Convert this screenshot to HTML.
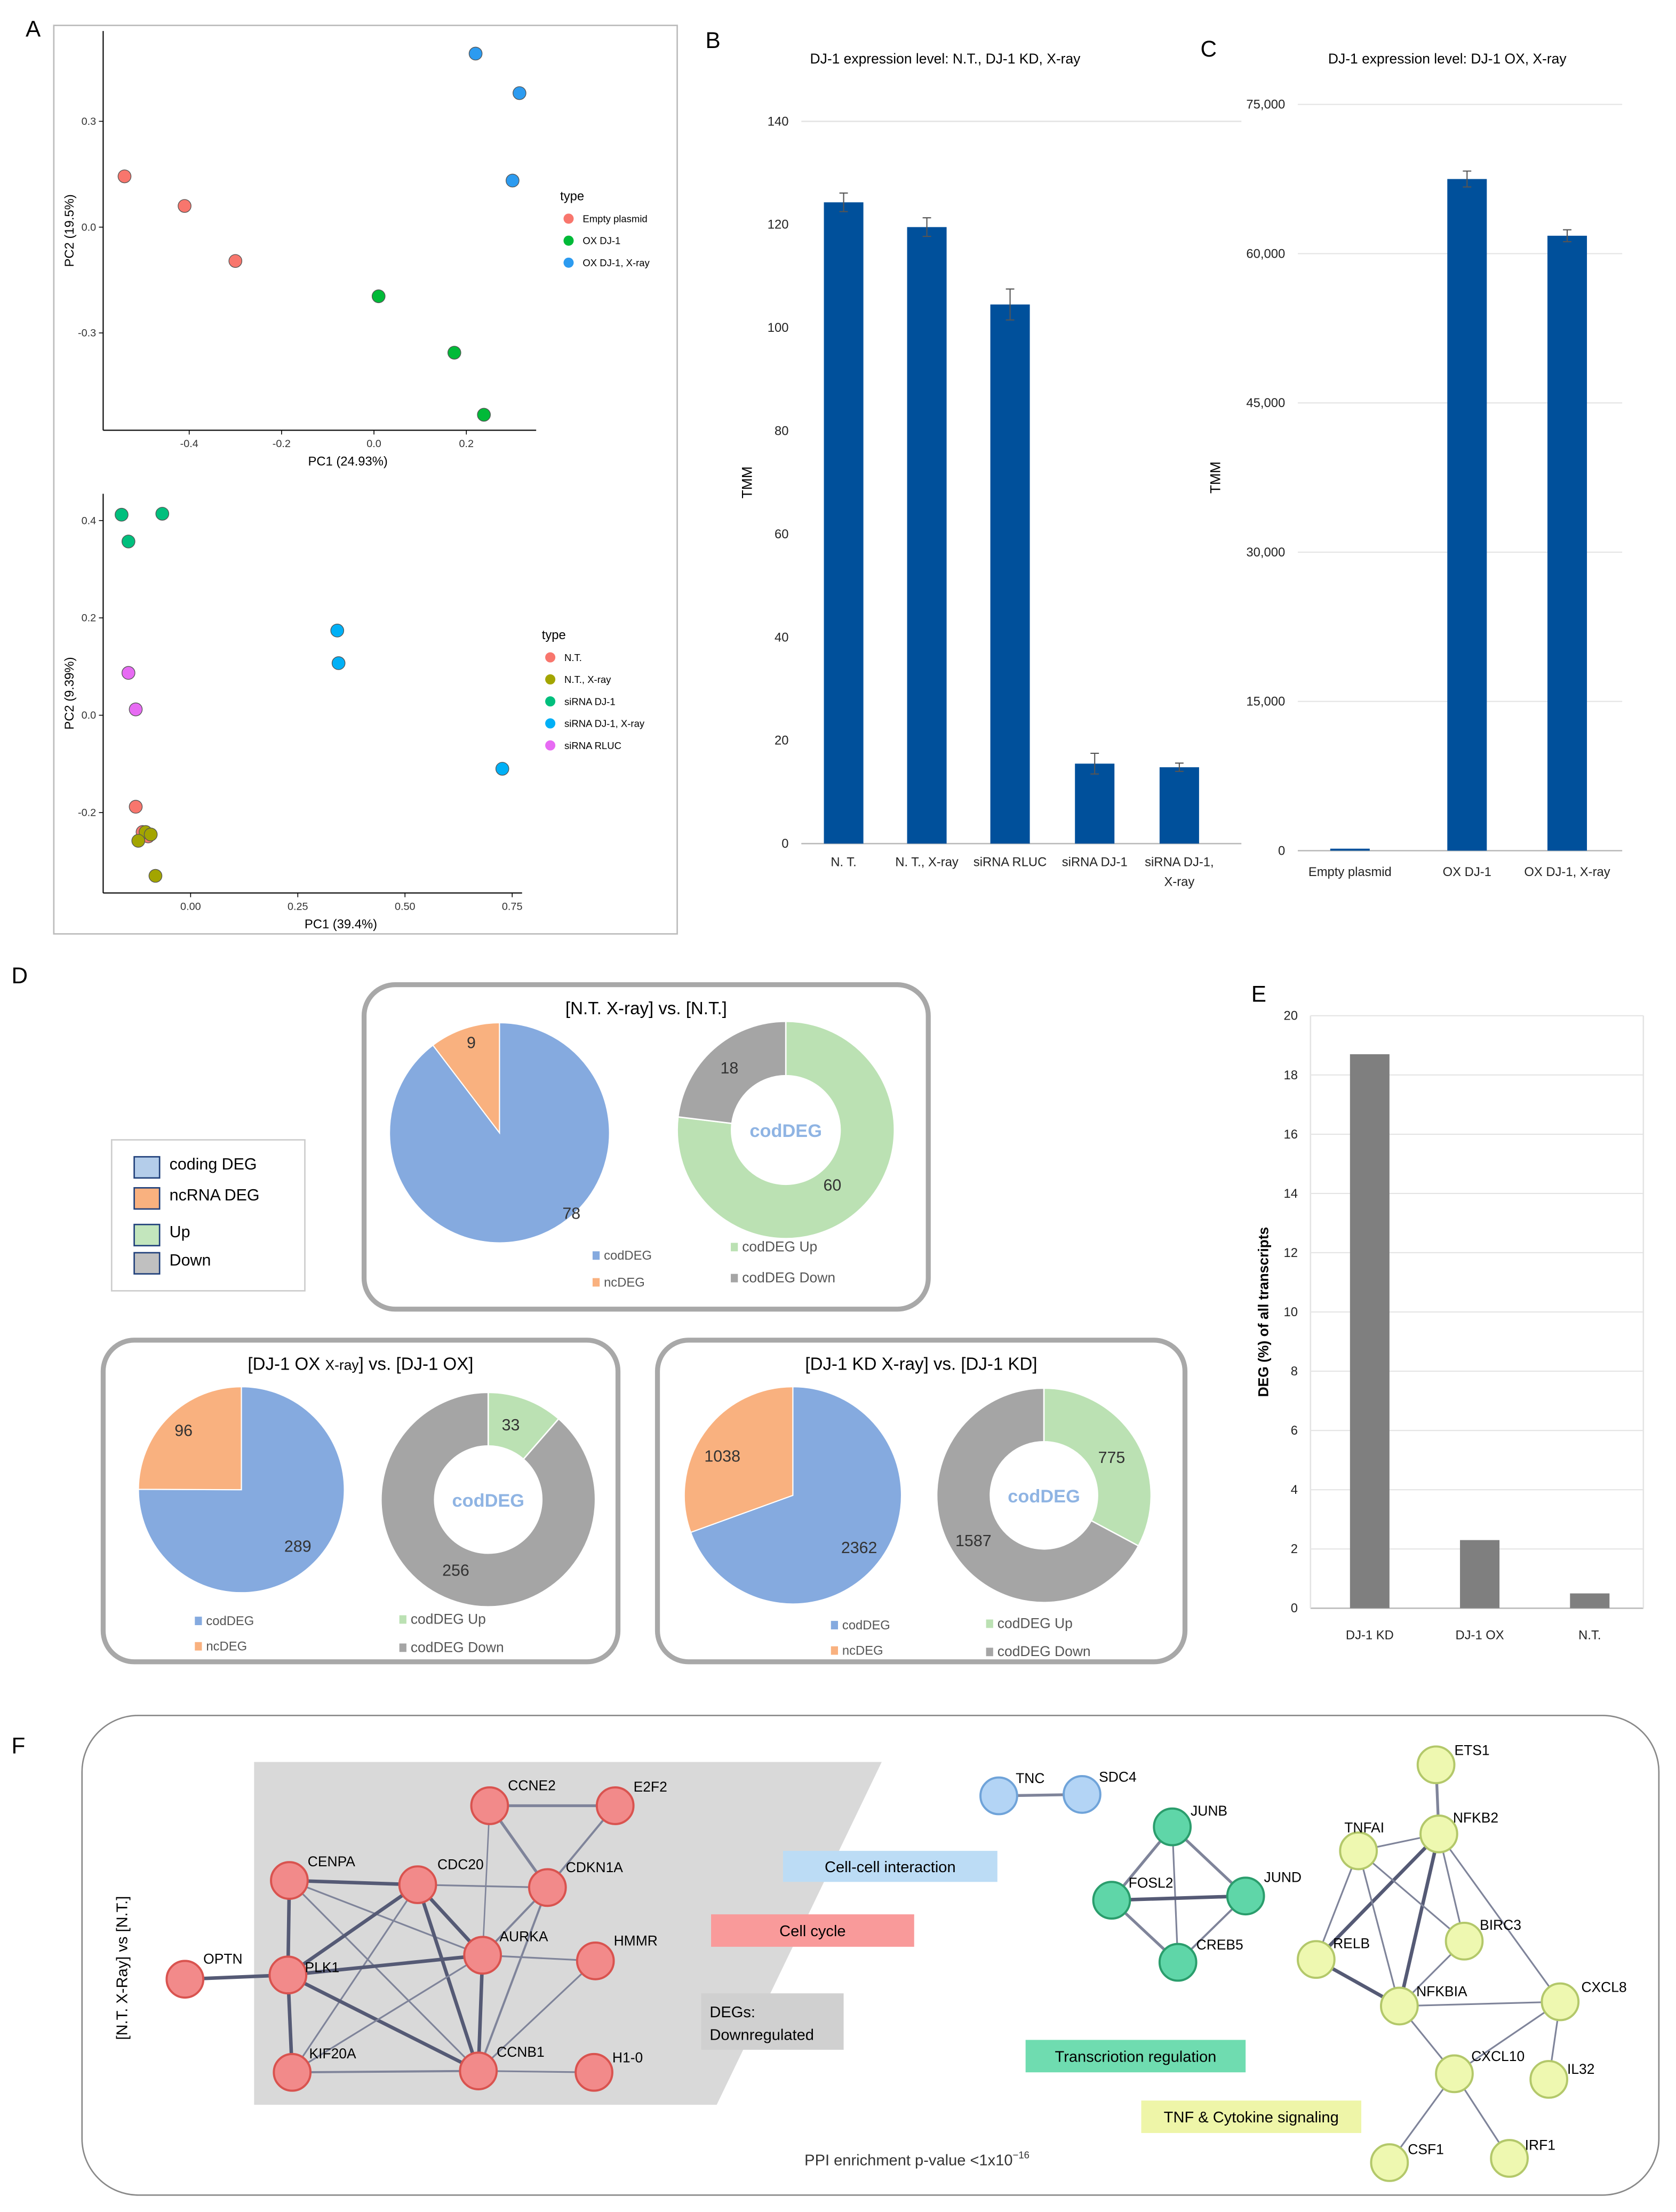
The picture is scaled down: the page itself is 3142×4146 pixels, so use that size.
<!DOCTYPE html>
<html><head><meta charset="utf-8"><style>
html,body{margin:0;padding:0;background:#fff}
svg{display:block}
text{font-family:"Liberation Sans",sans-serif}
</style></head><body>
<svg id="fig" width="3142" height="4146" viewBox="0 0 1188 1568" xmlns="http://www.w3.org/2000/svg">
<rect width="1188" height="1568" fill="#fff"/>
<g font-size="16" font-weight="normal">
<text x="18" y="26">A</text>
<text x="500" y="34">B</text>
<text x="851" y="40">C</text>
<text x="8" y="697">D</text>
<text x="887" y="710">E</text>
<text x="8" y="1243">F</text>
</g>
<rect x="38" y="18" width="442" height="644" fill="none" stroke="#bbb" stroke-width="1"/>
<g id="gA"></g><g id="gB"></g><g id="gC"></g><g id="gD"></g><g id="gE"></g><g id="gF"></g>
</svg>
<script>
// ---------- DATA ----------
const pcaTopGroups=["Empty plasmid","OX DJ-1","OX DJ-1, X-ray"];
const pcaTopX=[[-0.54,-0.41,-0.30],[0.01,0.174,0.238],[0.22,0.315,0.30]];
const pcaTopY=[[0.144,0.06,-0.096],[-0.196,-0.356,-0.532],[0.492,0.38,0.132]];
const pcaTopXTicks=[-0.4,-0.2,0.0,0.2];
const pcaTopYTicks=[0.3,0.0,-0.3];
const pcaBotGroups=["N.T.","N.T., X-ray","siRNA DJ-1","siRNA DJ-1, X-ray","siRNA RLUC"];
const pcaBotX=[[-0.128,-0.099,-0.112],[-0.105,-0.122,-0.082,-0.093],[-0.161,-0.066,-0.145],[0.342,0.345,0.727],[-0.145,-0.128]];
const pcaBotY=[[-0.188,-0.249,-0.24],[-0.24,-0.258,-0.33,-0.245],[0.412,0.414,0.357],[0.174,0.107,-0.11],[0.087,0.012]];
const pcaBotXTicks=["0.00","0.25","0.50","0.75"];
const pcaBotYTicks=[0.4,0.2,0.0,-0.2];
const bCats=[["N. T."],["N. T., X-ray"],["siRNA RLUC"],["siRNA DJ-1"],["siRNA DJ-1,","X-ray"]];
const bVals=[124.3,119.5,104.5,15.5,14.8];
const bErr=[1.8,1.8,3.0,2.0,0.8];
const bTicks=[0,20,40,60,80,100,120,140];
const cCats=["Empty plasmid","OX DJ-1","OX DJ-1, X-ray"];
const cVals=[200,67500,61800];
const cErr=[0,800,600];
const cTicks=[0,15000,30000,45000,60000,75000];
const eCats=["DJ-1 KD","DJ-1 OX","N.T."];
const eVals=[18.7,2.3,0.5];
const eTicks=[0,2,4,6,8,10,12,14,16,18,20];
const pieNc=[9,96,1038];
const pieCod=[78,289,2362];
const donutUp=[60,33,775];
const donutDown=[18,256,1587];

const NS="http://www.w3.org/2000/svg";
function el(p,t,a,txt){const e=document.createElementNS(NS,t);for(const k in a)e.setAttribute(k,a[k]);if(txt!==undefined)e.textContent=txt;p.appendChild(e);return e;}
const fmt=n=>n.toLocaleString('en-US');

// ---------- PANEL A ----------
function pca(g,ox,oy,xs,ys,xScale,yScale,xt,yt,groups,X,Y,cols,xl,yl,legX,legY,axX0,axX1,axY0,axY1,name){
  const L=el(g,'line',{x1:ox,y1:axY0,x2:ox,y2:axY1,stroke:'#000','stroke-width':0.8});
  
  const B=el(g,'line',{x1:axX0,y1:oy,x2:axX1,y2:oy,stroke:'#000','stroke-width':0.8});
  
  xt.forEach(v=>{const x=xScale(+v);el(g,'line',{x1:x,y1:oy,x2:x,y2:oy+3,stroke:'#000','stroke-width':0.6});
    const t=el(g,'text',{x:x,y:oy+12,'font-size':7.5,'text-anchor':'middle',fill:'#333'},typeof v==='string'?v:v.toFixed(1));
    });
  yt.forEach(v=>{const y=yScale(v);el(g,'line',{x1:ox-3,y1:y,x2:ox,y2:y,stroke:'#000','stroke-width':0.6});
    const t=el(g,'text',{x:ox-5,y:y+2.5,'font-size':7.5,'text-anchor':'end',fill:'#333'},v.toFixed(1));
    });
  groups.forEach((gr,i)=>{X[i].forEach((x,j)=>{const c=el(g,'circle',{cx:xScale(x),cy:yScale(Y[i][j]),r:4.6,fill:cols[i],stroke:'#555','stroke-width':0.5});
    });
    const ly=legY+16+i*15.6;el(g,'circle',{cx:legX+6,cy:ly,r:3.6,fill:cols[i]});
    const t=el(g,'text',{x:legX+16,y:ly+2.5,'font-size':7},gr);});
  const tt=el(g,'text',{x:legX,y:legY+3,'font-size':9},'type');
  const a=el(g,'text',{x:(axX0+axX1)/2+20,y:oy+25,'font-size':9,'text-anchor':'middle'},xl);
  const b=el(g,'text',{x:0,y:0,'font-size':9,'text-anchor':'middle',transform:`translate(52,${(axY0+axY1)/2}) rotate(-90)`},yl);
}
const gA=document.getElementById('gA');
pca(gA,73,305,0,0,v=>265+v*327.5,v=>161-v*250,pcaTopXTicks,pcaTopYTicks,pcaTopGroups,pcaTopX,pcaTopY,['#f8766d','#00ba38','#2c9bf0'],'PC1 (24.93%)','PC2 (19.5%)',397,139,73,380,22,305,'pca-top');
pca(gA,73,633,0,0,v=>135+v*304,v=>507-v*345,pcaBotXTicks,pcaBotYTicks,pcaBotGroups,pcaBotX,pcaBotY,['#f8766d','#a3a500','#00bf7d','#00b0f6','#e76bf3'],'PC1 (39.4%)','PC2 (9.39%)',384,450,73,370,350,633,'pca-bottom');

// ---------- BAR CHART helper ----------
function bars(g,x0,x1,y0,yTop,maxV,ticks,cats,vals,errs,centers,w,col,title,titleX,ylab,ylabX,tickFmt,catY,grid,name){
  const ys=v=>y0-(v/maxV)*(y0-yTop);
  ticks.forEach(v=>{const y=ys(v);
    if(grid) el(g,'line',{x1:x0,y1:y,x2:x1,y2:y,stroke:'#e4e4e4','stroke-width':0.8});
    const t=el(g,'text',{x:x0-9,y:y+3,'font-size':9,'text-anchor':'end',fill:'#222'},tickFmt(v));
    });
  el(g,'line',{x1:x0,y1:y0,x2:x1,y2:y0,stroke:'#bbb','stroke-width':1});
  vals.forEach((v,i)=>{const cx=centers[i];const r=el(g,'rect',{x:cx-w/2,y:ys(v),width:w,height:y0-ys(v),fill:col});
    
    if(errs&&errs[i]){const e1=ys(v+errs[i]),e2=ys(v-errs[i]);el(g,'path',{d:`M${cx},${e1}V${e2}M${cx-3},${e1}H${cx+3}M${cx-3},${e2}H${cx+3}`,stroke:'#555','stroke-width':0.8,fill:'none'});}
    const lines=Array.isArray(cats[i])?cats[i]:[cats[i]];
    lines.forEach((ln,k)=>{const t=el(g,'text',{x:cx,y:catY+k*14,'font-size':9,'text-anchor':'middle',fill:'#222'},ln);});});
  if(title){const t=el(g,'text',{x:titleX,y:45,'font-size':10,'text-anchor':'middle'},title);}
  const yl=el(g,'text',{x:0,y:0,'font-size':10,'font-weight':ylab.length>5?'bold':'normal','text-anchor':'middle',transform:`translate(${ylabX},${(y0+yTop)/2}) rotate(-90)`},ylab);
  
}
bars(document.getElementById('gB'),568,880,598,86,140,bTicks,bCats,bVals,bErr,[598,657,716,776,836],28,'#00509b','DJ-1 expression level: N.T., DJ-1 KD, X-ray',670,'TMM',533,v=>v,614,false,'panel-b');
el(document.getElementById('gB'),'line',{x1:568,y1:86,x2:880,y2:86,stroke:'#e4e4e4'});
bars(document.getElementById('gC'),920,1150,603,74,75000,cTicks,cCats,cVals,cErr,[957,1040,1111],28,'#00509b','DJ-1 expression level: DJ-1 OX, X-ray',1026,'TMM',865,v=>fmt(v),621,true,'panel-c');
bars(document.getElementById('gE'),929,1165,1140,720,20,eTicks,eCats,eVals,null,[971,1049,1127],28,'#7f7f7f',null,0,'DEG (%) of all transcripts',899,v=>v,1162,true,'panel-e');
el(document.getElementById('gE'),'line',{x1:929,y1:720,x2:929,y2:1140,stroke:'#e4e4e4'});
el(document.getElementById('gE'),'line',{x1:1165,y1:720,x2:1165,y2:1140,stroke:'#e4e4e4'});

// ---------- PANEL D ----------
const gD=document.getElementById('gD');
function arc(cx,cy,r,ri,a0,a1){const p=(a,rr)=>[cx+rr*Math.sin(a),cy-rr*Math.cos(a)];const lg=(a1-a0)>Math.PI?1:0;
  const [x0,y0]=p(a0,r),[x1,y1]=p(a1,r);
  if(!ri) return `M${cx},${cy}L${x0},${y0}A${r},${r} 0 ${lg} 1 ${x1},${y1}Z`;
  const [x2,y2]=p(a1,ri),[x3,y3]=p(a0,ri);return `M${x0},${y0}A${r},${r} 0 ${lg} 1 ${x1},${y1}L${x2},${y2}A${ri},${ri} 0 ${lg} 0 ${x3},${y3}Z`;}
function pieBox(i,bx,by,bw,bh,title,pc,pr,dc,dr,labs,leg){
  const b=el(gD,'rect',{x:bx,y:by,width:bw,height:bh,rx:22,fill:'#fff',stroke:'#a8a8a8','stroke-width':3.5});
  
  const t=el(gD,'text',{x:bx+bw/2,y:by+21,'font-size':12.5,'text-anchor':'middle'});t.innerHTML=title;
  
  const tot=pieNc[i]+pieCod[i];const aN=2*Math.PI*pieNc[i]/tot;
  const s1=el(gD,'path',{d:arc(pc[0],pc[1],pr,0,0,2*Math.PI-aN),fill:'#85aadf',stroke:'#fff','stroke-width':0.8});
  
  const s2=el(gD,'path',{d:arc(pc[0],pc[1],pr,0,2*Math.PI-aN,2*Math.PI-0.0001),fill:'#f9b17f',stroke:'#fff','stroke-width':0.8});
  
  const dt=donutUp[i]+donutDown[i];const aU=2*Math.PI*donutUp[i]/dt;
  const d1=el(gD,'path',{d:arc(dc[0],dc[1],dr,dr*0.5,0,aU),fill:'#bbe1b3',stroke:'#fff','stroke-width':1});
  
  const d2=el(gD,'path',{d:arc(dc[0],dc[1],dr,dr*0.5,aU,2*Math.PI-0.0001),fill:'#a5a5a5',stroke:'#fff','stroke-width':1});
  
  const c=el(gD,'text',{x:dc[0],y:dc[1]+5,'font-size':13,'font-weight':'bold','text-anchor':'middle',fill:'#8fb4e3'},'codDEG');
  
  const vals=[pieNc[i],pieCod[i],donutDown[i],donutUp[i]];
  labs.forEach((p,k)=>{const tl=el(gD,'text',{x:p[0],y:p[1],'font-size':11.5,'text-anchor':'middle',fill:'#333'},vals[k]);});
  const lt=[['codDEG','#85aadf'],['ncDEG','#f9b17f'],['codDEG Up','#bbe1b3'],['codDEG Down','#a5a5a5']];
  leg.forEach((p,k)=>{el(gD,'rect',{x:p[0],y:p[1]-6,width:5,height:6,fill:lt[k][1]});
    const tl=el(gD,'text',{x:p[0]+8,y:p[1],'font-size':k<2?9:10,fill:'#555'},lt[k][0]);});
}
pieBox(0,258,698,400,230,'[N.T. X-ray] vs. [N.T.]',[354,803],78,[557,801],77,[[334,743],[405,864],[517,761],[590,844]],[[420,893],[420,912],[518,887],[518,909]]);
pieBox(1,73,950,365,228,'[DJ-1 OX <tspan font-size="10">X-ray</tspan>] vs. [DJ-1 OX]',[171,1056],73,[346,1063],76,[[130,1018],[211,1100],[323,1117],[362,1014]],[[138,1152],[138,1170],[283,1151],[283,1171]]);
pieBox(2,466,950,374,228,'[DJ-1 KD X-ray] vs. [DJ-1 KD]',[562,1060],77,[740,1060],76,[[512,1036],[609,1101],[690,1096],[788,1037]],[[589,1155],[589,1173],[699,1154],[699,1174]]);
{const lb=el(gD,'rect',{x:79,y:808,width:137,height:107,fill:'#fff',stroke:'#ccc','stroke-width':1});

[['coding DEG','#b4cdea',828],['ncRNA DEG','#f9b17f',850],['Up','#c3e6bd',876],['Down','#c0c0c0',896]].forEach(r=>{
 el(gD,'rect',{x:95,y:r[2]-8,width:18,height:15,fill:r[1],stroke:'#1f3f7a','stroke-width':1});
 const t=el(gD,'text',{x:120,y:r[2]+1,'font-size':11.5},r[0]);});}

// ---------- PANEL F ----------
const gF=document.getElementById('gF');
const fb=el(gF,'rect',{x:58,y:1216,width:1118,height:340,rx:40,fill:'#fff',stroke:'#888','stroke-width':1});

const tz=el(gF,'polygon',{points:'180,1249 625,1249 508,1492 180,1492',fill:'#d9d9d9'});

const N={CCNE2:[347,1280],E2F2:[436,1280],CENPA:[205,1333],CDC20:[296,1336],CDKN1A:[388,1338],AURKA:[342,1386],HMMR:[422,1390],OPTN:[131,1403],PLK1:[204,1400],KIF20A:[207,1469],CCNB1:[339,1468],'H1-0':[421,1469],
TNC:[708,1273],SDC4:[767,1272],JUNB:[831,1295],FOSL2:[788,1347],JUND:[883,1344],CREB5:[835,1391],
ETS1:[1018,1251],NFKB2:[1020,1300],TNFAIP3:[963,1312],BIRC3:[1038,1376],RELB:[933,1389],NFKBIA:[992,1422],CXCL8:[1106,1419],CXCL10:[1031,1470],IL32:[1098,1474],CSF1:[985,1533],IRF1:[1070,1530]};
const E=[['CCNE2','E2F2',2],['CCNE2','CDKN1A',2],['CCNE2','AURKA',1],['E2F2','CDKN1A',1.5],['CENPA','CDC20',2.5],['CENPA','PLK1',2.5],['CENPA','AURKA',1.2],['CENPA','CCNB1',1.2],['CDC20','CDKN1A',1.2],['CDC20','AURKA',2.5],['CDC20','PLK1',2.5],['CDC20','CCNB1',2.5],['CDC20','KIF20A',1.2],['CDKN1A','AURKA',1.5],['CDKN1A','CCNB1',1.5],['AURKA','PLK1',2.5],['AURKA','CCNB1',2.5],['AURKA','HMMR',1.2],['HMMR','CCNB1',1.2],['OPTN','PLK1',2.5],['PLK1','KIF20A',2.5],['PLK1','CCNB1',2.5],['KIF20A','CCNB1',1.5],['CCNB1','H1-0',1.2],['KIF20A','AURKA',1.2],
['TNC','SDC4',2],['JUNB','FOSL2',2],['JUNB','JUND',2],['JUNB','CREB5',1.2],['FOSL2','JUND',2.5],['FOSL2','CREB5',2],['JUND','CREB5',1.5],
['ETS1','NFKB2',2],['NFKB2','TNFAIP3',1.2],['NFKB2','BIRC3',1.2],['NFKB2','RELB',2.5],['NFKB2','NFKBIA',2.5],['NFKB2','CXCL8',1.2],['TNFAIP3','NFKBIA',1.2],['TNFAIP3','BIRC3',1.2],['BIRC3','NFKBIA',1.2],['RELB','NFKBIA',2.5],['NFKBIA','CXCL8',1.2],['NFKBIA','CXCL10',1.2],['CXCL8','CXCL10',1.2],['CXCL8','IL32',1.2],['CXCL10','CSF1',1.2],['CXCL10','IRF1',1.2],['RELB','TNFAIP3',1.2]];
E.forEach(e=>{const a=N[e[0]],b=N[e[1]];const l=el(gF,'line',{x1:a[0],y1:a[1],x2:b[0],y2:b[1],stroke:e[2]>2?'#555a75':'#7f849a','stroke-width':e[2]});});
const red=['CCNE2','E2F2','CENPA','CDC20','CDKN1A','AURKA','HMMR','OPTN','PLK1','KIF20A','CCNB1','H1-0'],blue=['TNC','SDC4'],grn=['JUNB','FOSL2','JUND','CREB5'];
const lblOff={TNFAIP3:['TNFAI',-10,-17],NFKB2:['NFKB2',10,-12],ETS1:['ETS1',13,-11],RELB:['RELB',12,-12],NFKBIA:['NFKBIA',12,-11],CXCL8:['CXCL8',15,-11],CXCL10:['CXCL10',12,-13],IL32:['IL32',13,-8],CSF1:['CSF1',13,-10],IRF1:['IRF1',11,-10],BIRC3:['BIRC3',11,-12],OPTN:['OPTN',13,-15],PLK1:['PLK1',12,-6],CENPA:['CENPA',13,-14],KIF20A:['KIF20A',12,-14],CCNB1:['CCNB1',13,-14],'H1-0':['H1-0',13,-11],HMMR:['HMMR',13,-15],AURKA:['AURKA',12,-14],CDC20:['CDC20',14,-15],CDKN1A:['CDKN1A',13,-15],CCNE2:['CCNE2',13,-15],E2F2:['E2F2',13,-14],TNC:['TNC',12,-13],SDC4:['SDC4',12,-13],JUNB:['JUNB',13,-12],FOSL2:['FOSL2',12,-13],JUND:['JUND',13,-14],CREB5:['CREB5',13,-13]};
for(const k in N){const p=N[k];let f='#eef8b0',s='#b3c86a';if(red.includes(k)){f='#f28a8a';s='#d9534f';}else if(blue.includes(k)){f='#b3d4f5';s='#6fa3d9';}else if(grn.includes(k)){f='#5fd6a8';s='#2a9d6c';}
 const c=el(gF,'circle',{cx:p[0],cy:p[1],r:13,fill:f,stroke:s,'stroke-width':1.5});
 const o=lblOff[k];const t=el(gF,'text',{x:p[0]+o[1],y:p[1]+o[2]+4,'font-size':10},o[0]);}
[['Cell-cell interaction',555,1312,152,22,'#bcdcf5'],['Cell cycle',504,1357,144,23,'#f99a9a'],['Transcriotion regulation',727,1446,156,23,'#6fdcb0'],['TNF & Cytokine signaling',809,1489,156,23,'#eef5a8']].forEach(r=>{
 const b=el(gF,'rect',{x:r[1],y:r[2],width:r[3],height:r[4],fill:r[5]});
 const t=el(gF,'text',{x:r[1]+r[3]/2,y:r[2]+r[4]/2+4,'font-size':11,'text-anchor':'middle'},r[0]);});
{const b=el(gF,'rect',{x:497,y:1413,width:101,height:40,fill:'#d0d0d0'});
el(gF,'text',{x:503,y:1430,'font-size':11},'DEGs:');el(gF,'text',{x:503,y:1446,'font-size':11},'Downregulated');
const t=el(gF,'text',{x:0,y:0,'font-size':11,'text-anchor':'middle',transform:'translate(90,1395) rotate(-90)'},'[N.T. X-Ray] vs [N.T.]');
const p=el(gF,'text',{x:650,y:1535,'font-size':11,'text-anchor':'middle',fill:'#333'});p.innerHTML='PPI enrichment p-value &lt;1x10<tspan font-size="7" dy="-5">−16</tspan>';}
</script>
</body></html>
